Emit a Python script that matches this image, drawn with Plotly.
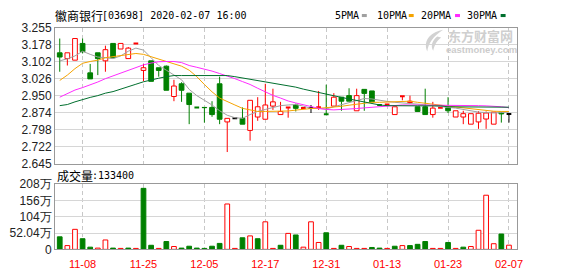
import plotly.graph_objects as go

W, H = 578, 276

# ---------------- data ----------------
opens = [3.142, 3.116, 3.109, 3.184, 3.052, 3.142, 3.106, 3.184, 3.159, 3.116,
         3.184, 3.063, 3.106, 3.075, 3.082, 2.946, 3.003, 2.961, 2.897, 2.897,
         2.897, 3.003, 2.832, 2.848, 2.848, 2.794, 2.854, 2.844, 2.903, 2.865,
         2.897, 2.908, 2.894, 2.894, 2.898, 2.866, 2.903, 2.943, 2.950, 2.882,
         2.978, 2.971, 2.908, 2.910, 2.865, 2.947, 2.919, 2.900, 2.900, 2.865,
         2.896, 2.896, 2.854, 2.854, 2.822, 2.832, 2.845, 2.822, 2.876, 2.868]
highs = [3.206, 3.142, 3.206, 3.206, 3.092, 3.142, 3.174, 3.184, 3.184, 3.168,
         3.184, 3.092, 3.106, 3.075, 3.085, 3.021, 3.010, 2.961, 2.897, 2.897,
         2.925, 3.035, 2.848, 2.848, 2.897, 2.929, 2.943, 3.003, 2.981, 2.922,
         2.897, 2.914, 2.894, 2.908, 2.971, 2.999, 2.961, 2.943, 2.983, 2.981,
         2.978, 2.971, 2.908, 2.910, 2.900, 2.947, 2.950, 2.900, 2.981, 2.922,
         2.896, 2.943, 2.882, 2.882, 2.869, 2.880, 2.879, 2.876, 2.876, 2.868]
lows = [3.057, 3.085, 3.109, 3.139, 3.025, 3.042, 3.057, 3.120, 3.159, 3.116,
        3.184, 3.014, 3.014, 3.035, 2.974, 2.925, 2.922, 2.822, 2.897, 2.829,
        2.855, 2.822, 2.697, 2.848, 2.822, 2.748, 2.837, 2.844, 2.886, 2.865,
        2.851, 2.879, 2.894, 2.872, 2.886, 2.864, 2.903, 2.882, 2.925, 2.882,
        2.882, 2.922, 2.908, 2.910, 2.865, 2.929, 2.919, 2.879, 2.865, 2.851,
        2.896, 2.872, 2.854, 2.822, 2.822, 2.801, 2.801, 2.822, 2.829, 2.829]
closes = [3.123, 3.142, 3.206, 3.147, 3.025, 3.116, 3.156, 3.120, 3.184, 3.163,
          3.184, 3.075, 3.014, 3.063, 2.974, 2.993, 2.974, 2.910, 2.897, 2.896,
          2.865, 2.844, 2.848, 2.848, 2.822, 2.929, 2.900, 2.908, 2.922, 2.879,
          2.897, 2.893, 2.894, 2.894, 2.898, 2.866, 2.943, 2.925, 2.925, 2.950,
          2.960, 2.922, 2.908, 2.910, 2.900, 2.947, 2.925, 2.879, 2.865, 2.894,
          2.896, 2.882, 2.882, 2.869, 2.869, 2.871, 2.872, 2.876, 2.868, 2.868]
prev_close_before_first = 3.160

# volume in 万 (10k shares)
volumes = [40, 12, 64, 34, 7, 4, 30, 4, 3, 4,
           3, 195, 13, 3, 25, 9, 4, 10, 4, 3,
           10, 19, 145, 3, 37, 43, 34, 88, 3, 13,
           51, 46, 7, 88, 22, 53, 3, 13, 9, 3,
           3, 6, 4, 3, 10, 12, 12, 16, 25, 3,
           3, 22, 3, 7, 9, 61, 173, 18, 49, 13.34]

ma5 = [3.106, 3.115, 3.128, 3.149, 3.135, 3.123, 3.120, 3.116, 3.128, 3.149,
       3.163, 3.154, 3.120, 3.085, 3.064, 3.042, 3.021, 2.978, 2.950, 2.929,
       2.908, 2.882, 2.862, 2.851, 2.848, 2.865, 2.879, 2.888, 2.898, 2.905,
       2.908, 2.910, 2.903, 2.893, 2.892, 2.890, 2.900, 2.909, 2.917, 2.928,
       2.937, 2.935, 2.928, 2.924, 2.920, 2.918, 2.916, 2.913, 2.909, 2.905,
       2.900, 2.897, 2.894, 2.888, 2.881, 2.876, 2.874, 2.872, 2.874, 2.876]
ma10 = [3.018, 3.042, 3.071, 3.095, 3.103, 3.109, 3.120, 3.125, 3.130, 3.135,
        3.139, 3.135, 3.125, 3.113, 3.103, 3.095, 3.082, 3.064, 3.035, 3.000,
        2.967, 2.939, 2.922, 2.908, 2.893, 2.885, 2.879, 2.879, 2.879, 2.878,
        2.881, 2.885, 2.890, 2.892, 2.893, 2.895, 2.898, 2.902, 2.907, 2.911,
        2.917, 2.920, 2.920, 2.921, 2.924, 2.926, 2.925, 2.920, 2.915, 2.911,
        2.907, 2.903, 2.899, 2.895, 2.891, 2.886, 2.883, 2.880, 2.879, 2.879]
ma20 = [2.943, 2.960, 2.975, 2.986, 2.998, 3.011, 3.026, 3.039, 3.049, 3.064,
        3.078, 3.088, 3.096, 3.102, 3.103, 3.103, 3.098, 3.085, 3.077, 3.069,
        3.060, 3.049, 3.039, 3.026, 3.013, 3.000, 2.983, 2.966, 2.951, 2.939,
        2.926, 2.917, 2.908, 2.900, 2.893, 2.888, 2.886, 2.888, 2.889, 2.892,
        2.895, 2.898, 2.902, 2.905, 2.908, 2.908, 2.908, 2.908, 2.908, 2.908,
        2.908, 2.908, 2.908, 2.908, 2.907, 2.905, 2.904, 2.903, 2.900, 2.896]
ma30 = [2.905, 2.910, 2.922, 2.933, 2.942, 2.950, 2.961, 2.968, 2.978, 2.990,
        3.001, 3.012, 3.021, 3.028, 3.035, 3.040, 3.040, 3.040, 3.040, 3.040,
        3.040, 3.040, 3.040, 3.035, 3.029, 3.024, 3.018, 3.011, 3.006, 3.001,
        2.996, 2.988, 2.979, 2.971, 2.963, 2.956, 2.948, 2.942, 2.935, 2.928,
        2.921, 2.913, 2.908, 2.905, 2.904, 2.904, 2.904, 2.904, 2.904, 2.904,
        2.904, 2.900, 2.900, 2.900, 2.900, 2.900, 2.898, 2.898, 2.898, 2.898]

date_tick_index = [3, 11, 19, 27, 35, 43, 51, 59]
date_tick_labels = ["11-08", "11-25", "12-05", "12-17", "12-31", "01-13", "01-23", "02-07"]
price_ticks = [2.645, 2.72125, 2.7975, 2.87375, 2.95, 3.02625, 3.1025, 3.17875, 3.255]
price_tick_labels = ["2.645", "2.722", "2.798", "2.874", "2.950", "3.026", "3.102", "3.178", "3.255"]
vol_ticks = [0, 52.04, 104.08, 156.12, 208.16]
vol_tick_labels = ["0", "52.04万", "104万", "156万", "208万"]
stock_name = "徽商银行"
stock_info = "[03698] 2020-02-07 16:00"
vol_title = "成交量"
last_volume = ":133400"
ma_names = ["5PMA", "10PMA", "20PMA", "30PMA"]

# ---------------- styling ----------------
RED, GREEN, BLACK = "#ff0000", "#008000", "#000000"
MA_COLORS = ["#a0a0a0", "#f5a300", "#ff2bff", "#006f2e"]
MONO = "DejaVu Sans Mono"
CJK = "Noto Sans CJK SC"
SANS = "Liberation Sans"

n = len(closes)
xs = list(range(n))
prev = [prev_close_before_first] + closes[:-1]


def candle_color(i):
    if closes[i] > opens[i]:
        return RED
    if closes[i] < opens[i]:
        return GREEN
    if closes[i] > prev[i]:
        return RED
    if closes[i] < prev[i]:
        return GREEN
    return BLACK


fig = go.Figure()

# wicks
wx = {RED: [], GREEN: [], BLACK: []}
wy = {RED: [], GREEN: [], BLACK: []}
for i in xs:
    c = candle_color(i)
    top, bot = max(opens[i], closes[i]), min(opens[i], closes[i])
    if highs[i] > top:
        wx[c] += [i, i, None]
        wy[c] += [top, highs[i], None]
    if lows[i] < bot:
        wx[c] += [i, i, None]
        wy[c] += [bot, lows[i], None]
for c in wx:
    if wx[c]:
        fig.add_trace(go.Scatter(x=wx[c], y=wy[c], mode="lines", line=dict(color=c, width=1),
                                 xaxis="x", yaxis="y", hoverinfo="skip"))

# bodies
BW = 0.62
up = [i for i in xs if closes[i] > opens[i]]
dn = [i for i in xs if closes[i] < opens[i]]
fig.add_trace(go.Bar(x=up, y=[closes[i] - opens[i] for i in up], base=[opens[i] for i in up],
                     width=BW, marker=dict(color="white", line=dict(color=RED, width=1)),
                     xaxis="x", yaxis="y", hoverinfo="skip"))
fig.add_trace(go.Bar(x=dn, y=[opens[i] - closes[i] for i in dn], base=[closes[i] for i in dn],
                     width=BW, marker=dict(color=GREEN, line=dict(color=GREEN, width=1)),
                     xaxis="x", yaxis="y", hoverinfo="skip"))

# doji dashes
dx = {RED: [], GREEN: [], BLACK: []}
dy = {RED: [], GREEN: [], BLACK: []}
for i in xs:
    if closes[i] == opens[i]:
        c = candle_color(i)
        dx[c] += [i - BW / 2, i + BW / 2, None]
        dy[c] += [closes[i], closes[i], None]
for c in dx:
    if dx[c]:
        fig.add_trace(go.Scatter(x=dx[c], y=dy[c], mode="lines", line=dict(color=c, width=2),
                                 xaxis="x", yaxis="y", hoverinfo="skip"))

# moving averages
for vals, col in zip([ma5, ma10, ma20, ma30], MA_COLORS):
    fig.add_trace(go.Scatter(x=xs, y=vals, mode="lines", line=dict(color=col, width=1),
                             xaxis="x", yaxis="y", hoverinfo="skip"))

# volume
vup = [i for i in xs if closes[i] >= prev[i]]
vdn = [i for i in xs if closes[i] < prev[i]]
fig.add_trace(go.Bar(x=vup, y=[volumes[i] for i in vup], width=BW,
                     marker=dict(color="white", line=dict(color=RED, width=1)),
                     xaxis="x2", yaxis="y2", hoverinfo="skip"))
fig.add_trace(go.Bar(x=vdn, y=[volumes[i] for i in vdn], width=BW,
                     marker=dict(color=GREEN, line=dict(color=GREEN, width=1)),
                     xaxis="x2", yaxis="y2", hoverinfo="skip"))

# ---------------- layout ----------------
X0, X1 = 55.5, 522.0
xdom = [X0 / W, X1 / W]
xr = [-0.62, 60.12]
common_x = dict(range=xr, domain=xdom, tickmode="array", tickvals=date_tick_index,
                showgrid=True, gridcolor="#c8c8c8", griddash="4px,3px", gridwidth=1,
                zeroline=False, showline=True, mirror=True, linecolor="#999999", linewidth=1,
                ticks="", fixedrange=True)
common_y = dict(showgrid=True, gridcolor="#d6d6d6", gridwidth=1, zeroline=False,
                showline=True, mirror=True, linecolor="#999999", linewidth=1, ticks="",
                tickmode="array", tickfont=dict(family=SANS, size=12, color="#222222"),
                fixedrange=True)


def py(y):
    return 1 - y / H


def px(x):
    return x / W


fig.update_layout(
    width=W, height=H, margin=dict(l=0, r=0, t=0, b=0), autosize=False,
    paper_bgcolor="white", plot_bgcolor="white", showlegend=False, hovermode=False,
    barmode="overlay",
    xaxis=dict(common_x, anchor="y", showticklabels=False),
    xaxis2=dict(common_x, anchor="y2", ticktext=date_tick_labels, ticklabelstandoff=4,
                tickfont=dict(family=SANS, size=11, color="#ff0000")),
    yaxis=dict(common_y, domain=[py(165.0), py(21.7)], range=[2.645, 3.255],
               tickvals=price_ticks, ticktext=price_tick_labels, anchor="x"),
    yaxis2=dict(common_y, domain=[py(255.3), py(186.7)], range=[0, 208.16],
                tickvals=vol_ticks, ticktext=vol_tick_labels, anchor="x2"),
)

ann = []


def text(x, y, s, family, size, color="#000000", anchor="left", bold=False):
    ann.append(dict(x=px(x), y=py(y), xref="paper", yref="paper", text=(f"<b>{s}</b>" if bold else s),
                    showarrow=False, xanchor=anchor, yanchor="middle", borderpad=0,
                    font=dict(family=family, size=size, color=color)))


text(54, 8.5, stock_name, CJK, 12)
text(102, 8.5, stock_info, MONO, 10)
text(56, 177.5, vol_title, CJK, 12)
text(92, 177.5, last_volume, MONO, 10)

legend_x = [338, 380, 425, 471.5]
square_x = [365, 412.3, 459, 505]
shapes = []
for name, lx, sx, col in zip(ma_names, legend_x, square_x, MA_COLORS):
    text(lx - 1, 9, name, MONO, 10)
    shapes.append(dict(type="rect", xref="paper", yref="paper", x0=px(sx), x1=px(sx + 5),
                       y0=py(10.6), y1=py(7.4), fillcolor=col, line=dict(width=0)))

# watermark
text(451, 29.5, "东方财富网", CJK, 13, color="#cfcfcf", bold=True)
text(449, 44.5, "eastmoney.com", SANS, 9.5, color="#cccccc", bold=True)


def P(x, y):
    return f"{px(x):.5f},{py(y):.5f}"


logo = (f"M {P(447, 24)} C {P(436, 26)} {P(426, 34)} {P(431, 47)} "
        f"C {P(432, 38)} {P(437, 31)} {P(447, 24)} Z "
        f"M {P(441, 31)} C {P(436, 35)} {P(434, 41)} {P(437, 46)} "
        f"C {P(438, 41)} {P(440, 36)} {P(445, 32)} Z")
shapes.append(dict(type="path", xref="paper", yref="paper", path=logo,
                   fillcolor="#d2d2d2", line=dict(width=0), layer="above"))

fig.update_layout(annotations=ann, shapes=shapes)

fig.write_html("out.html")
